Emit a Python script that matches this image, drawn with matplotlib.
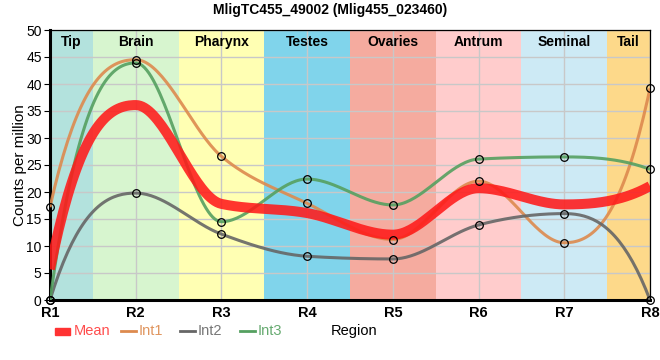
import numpy as np
import matplotlib
matplotlib.use("Agg")
import matplotlib.pyplot as plt
from matplotlib.lines import Line2D
from matplotlib.patches import Rectangle

plt.rcParams['font.family'] = ['Liberation Sans', 'DejaVu Sans']

# data
regions = ['R1', 'R2', 'R3', 'R4', 'R5', 'R6', 'R7', 'R8']
tissues = ['Tip', 'Brain', 'Pharynx', 'Testes', 'Ovaries', 'Antrum', 'Seminal', 'Tail']
tissue_colors = ['#b3e2dd', '#d7f5cf', '#ffffb3', '#80d4eb',
                 '#f5ab9f', '#ffcccc', '#cdeaf5', '#fdd98a']
mean = [5.7, 36.1, 17.8, 16.1, 12.1, 20.7, 17.7, 21.1]
int1 = [17.2, 44.5, 26.6, 17.9, 11.2, 22.0, 10.6, 39.2]
int2 = [0.0, 19.8, 12.2, 8.1, 7.6, 13.9, 16.0, 0.0]
int3 = [0.0, 43.9, 14.5, 22.4, 17.6, 26.1, 26.5, 24.2]


def monotone(x, y, n=40):
    """monotone cubic through the points, steep ends"""
    x = np.asarray(x, float)
    y = np.asarray(y, float)
    h = np.diff(x)
    s = np.diff(y) / h
    m = np.zeros(len(x))
    for i in range(1, len(x) - 1):
        p = (s[i - 1] * h[i] + s[i] * h[i - 1]) / (h[i - 1] + h[i])
        m[i] = (np.sign(s[i - 1]) + np.sign(s[i])) * min(abs(s[i - 1]), abs(s[i]), 0.5 * abs(p))
    m[0] = 2.6 * s[0] - m[1]
    m[-1] = 2.6 * s[-1] - m[-2]
    xs, ys = [], []
    for i in range(len(x) - 1):
        t = np.linspace(0, 1, n)
        h00 = 2 * t**3 - 3 * t**2 + 1
        h10 = t**3 - 2 * t**2 + t
        h01 = -2 * t**3 + 3 * t**2
        h11 = t**3 - t**2
        xs.append(x[i] + t * h[i])
        ys.append(h00 * y[i] + h10 * h[i] * m[i] + h01 * y[i + 1] + h11 * h[i] * m[i + 1])
    return np.concatenate(xs), np.concatenate(ys)


fig = plt.figure(figsize=(6.6, 3.6), dpi=100)
ax = fig.add_axes([50 / 660, 60 / 360, 600 / 660, 270 / 360])

xpos = np.arange(len(regions))
for i, (name, col) in enumerate(zip(tissues, tissue_colors)):
    left = max(i - 0.5, 0)
    right = min(i + 0.5, len(regions) - 1)
    ax.axvspan(left, right, color=col, lw=0, zorder=0)
    ax.text((left + right) / 2, 47.7, name, ha='center', va='center',
            fontsize=10, fontweight='bold', zorder=5)

series = [('Int1', int1, '#dd8a4e'), ('Int2', int2, '#666666'), ('Int3', int3, '#55a060')]
for name, vals, col in series:
    cx, cy = monotone(xpos, vals)
    ax.plot(cx, cy, color=col, lw=2.2, alpha=0.9, zorder=3, solid_capstyle='butt')
    ax.plot(xpos, vals, 'o', ms=5.5, mfc='none', mec='black', mew=0.9, zorder=6, clip_on=False)

mx, my = monotone(xpos, mean)
ax.plot(mx, my, color='#ff1a1a', lw=7.2, alpha=0.88, zorder=4, solid_capstyle='butt')

ax.set_xlim(0, len(regions) - 1)
ax.set_ylim(0, 50)
ax.set_xticks(xpos)
ax.set_xticklabels(regions, fontsize=10.5, fontweight='bold')
ax.set_yticks(np.arange(0, 51, 5))
ax.set_yticklabels([str(v) for v in range(0, 51, 5)], fontsize=10)
ax.grid(True, color='#c8c8c8', lw=1)
for g in ax.get_xgridlines() + ax.get_ygridlines():
    g.set_zorder(1)
ax.tick_params(axis='y', length=4, pad=2)
ax.tick_params(axis='x', length=0, pad=4)
ax.spines['left'].set_linewidth(2.2)
ax.spines['bottom'].set_linewidth(2.2)
ax.spines['top'].set_linewidth(0.9)
ax.spines['right'].set_linewidth(0.9)
ax.set_ylabel('Counts per million', fontsize=11, labelpad=-1)
fig.text(330 / 660, 1 - 10 / 360, 'MligTC455_49002 (Mlig455_023460)', ha='center',
         va='center', fontsize=10, fontweight='bold')

# legend along the bottom, laid out in pixels
W, H = 660, 360
ly = 1 - 331 / H
fig.patches.append(Rectangle((55 / W, ly - 3.5 / H), 15 / W, 7 / H, color='#ff3333',
                             transform=fig.transFigure, figure=fig))
fig.text(74 / W, ly, 'Mean', color='#ff4d4d', fontsize=10.5, va='center')
leg = [('Int1', 121, '#e0955e', '#dd8a4e'), ('Int2', 180, '#777777', '#666666'),
       ('Int3', 240, '#66aa70', '#55a060')]
for label, x0, tcol, lcol in leg:
    fig.add_artist(Line2D([x0 / W, (x0 + 15) / W], [ly, ly], color=lcol, lw=2,
                          transform=fig.transFigure))
    fig.text((x0 + 18) / W, ly, label, color=tcol, fontsize=10.5, va='center')
fig.text(331 / W, ly, 'Region', fontsize=10.5, va='center')

fig.savefig('out.png', dpi=100)
